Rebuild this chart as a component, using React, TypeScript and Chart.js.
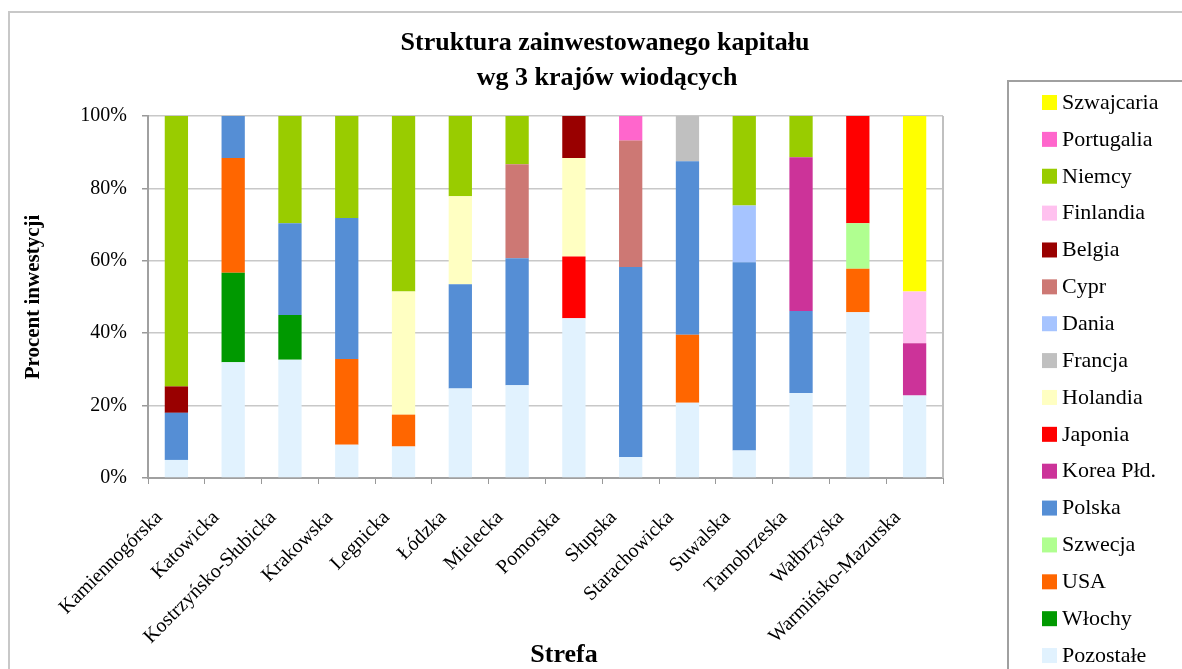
import React, { useEffect, useRef } from 'react';
import { Chart, registerables } from 'chart.js';

Chart.register(...registerables);

const categories = [
  'Kamiennogórska', 'Katowicka', 'Kostrzyńsko-Słubicka', 'Krakowska', 'Legnicka',
  'Łódzka', 'Mielecka', 'Pomorska', 'Słupska', 'Starachowicka',
  'Suwalska', 'Tarnobrzeska', 'Wałbrzyska', 'Warmińsko-Mazurska',
];

const titleLines = ['Struktura zainwestowanego kapitału', 'wg 3 krajów wiodących'];
const yTitle = 'Procent inwestycji';
const xTitle = 'Strefa';
const yTicks = [0, 20, 40, 60, 80, 100];

// values in % (bottom of the stack first)
const pozostale = [5, 32, 32.7, 9.2, 8.7, 24.7, 25.6, 44.1, 5.8, 20.8, 7.6, 23.5, 45.8, 22.8];
const wlochy = [0, 24.7, 12.3, 0, 0, 0, 0, 0, 0, 0, 0, 0, 0, 0];
const usa = [0, 31.7, 0, 23.7, 8.8, 0, 0, 0, 0, 18.8, 0, 0, 12, 0];
const szwecja = [0, 0, 0, 0, 0, 0, 0, 0, 0, 0, 0, 0, 12.6, 0];
const polska = [13, 11.6, 25.4, 38.9, 0, 28.8, 35.1, 0, 52.5, 47.9, 52, 22.6, 0, 0];
const korea = [0, 0, 0, 0, 0, 0, 0, 0, 0, 0, 0, 42.5, 0, 14.4];
const japonia = [0, 0, 0, 0, 0, 0, 0, 17.1, 0, 0, 0, 0, 29.6, 0];
const holandia = [0, 0, 0, 0, 34, 24.3, 0, 27.2, 0, 0, 0, 0, 0, 0];
const francja = [0, 0, 0, 0, 0, 0, 0, 0, 0, 12.5, 0, 0, 0, 0];
const dania = [0, 0, 0, 0, 0, 0, 0, 0, 0, 0, 15.7, 0, 0, 0];
const cypr = [0, 0, 0, 0, 0, 0, 26, 0, 34.9, 0, 0, 0, 0, 0];
const belgia = [7.3, 0, 0, 0, 0, 0, 0, 11.6, 0, 0, 0, 0, 0, 0];
const finlandia = [0, 0, 0, 0, 0, 0, 0, 0, 0, 0, 0, 0, 0, 14.3];
const niemcy = [74.7, 0, 29.6, 28.2, 48.5, 22.2, 13.3, 0, 0, 0, 24.7, 11.4, 0, 0];
const portugalia = [0, 0, 0, 0, 0, 0, 0, 0, 6.8, 0, 0, 0, 0, 0];
const szwajcaria = [0, 0, 0, 0, 0, 0, 0, 0, 0, 0, 0, 0, 0, 48.5];

const seriesNames = [
  'Pozostałe', 'Włochy', 'USA', 'Szwecja', 'Polska', 'Korea Płd.', 'Japonia', 'Holandia',
  'Francja', 'Dania', 'Cypr', 'Belgia', 'Finlandia', 'Niemcy', 'Portugalia', 'Szwajcaria',
];
const seriesValues = [
  pozostale, wlochy, usa, szwecja, polska, korea, japonia, holandia,
  francja, dania, cypr, belgia, finlandia, niemcy, portugalia, szwajcaria,
];
const seriesColors = [
  '#E1F2FE', '#009900', '#FF6600', '#B0FF90', '#558ED5', '#CC3399', '#FF0000', '#FFFFC2',
  '#C0C0C0', '#A6C4FF', '#CD7874', '#990000', '#FFC1EF', '#99CC00', '#FF66CC', '#FFFF00',
];

const SERIF = '"Liberation Serif", "Times New Roman", serif';

const decorPlugin = {
  id: 'decor',
  beforeDraw(chart: any) {
    const ctx = chart.ctx;
    ctx.save();
    ctx.fillStyle = '#ffffff';
    ctx.fillRect(0, 0, chart.width, chart.height);
    ctx.strokeStyle = '#c8c8c8';
    ctx.lineWidth = 2;
    ctx.strokeRect(9, 12, chart.width + 20, chart.height + 20);
    ctx.restore();
  },
  afterDraw(chart: any) {
    const ctx = chart.ctx;
    const ca = chart.chartArea;
    ctx.save();
    // plot border (right)
    ctx.strokeStyle = '#c0c0c0';
    ctx.lineWidth = 2;
    ctx.beginPath();
    ctx.moveTo(ca.right, ca.top);
    ctx.lineTo(ca.right, ca.bottom);
    ctx.stroke();

    // main title
    ctx.fillStyle = '#000';
    ctx.textAlign = 'center';
    ctx.textBaseline = 'middle';
    ctx.font = `bold 26px ${SERIF}`;
    ctx.fillText(titleLines[0], 605, 43);
    ctx.fillText(titleLines[1], 607, 78);

    // x title
    ctx.font = `bold 26px ${SERIF}`;
    ctx.fillText(xTitle, 564, 655);

    // legend
    const lx = 1008, ly = 81;
    ctx.strokeStyle = '#a0a0a0';
    ctx.lineWidth = 2;
    ctx.strokeRect(lx, ly, 400, 700);
    ctx.font = `22px ${SERIF}`;
    ctx.textAlign = 'left';
    const ds = chart.data.datasets;
    const n = ds.length;
    for (let i = 0; i < n; i++) {
      const d = ds[n - 1 - i];
      const cy = 102 + i * 36.87;
      ctx.fillStyle = d.backgroundColor;
      ctx.fillRect(1042, cy - 7, 15, 15);
      ctx.fillStyle = '#000';
      ctx.fillText(d.label, 1062, cy + 1);
    }
    ctx.restore();
  },
};

export default function App() {
  const ref = useRef<HTMLCanvasElement | null>(null);
  useEffect(() => {
    if (!ref.current) return;
    const chart = new Chart(ref.current, {
      type: 'bar',
      data: {
        labels: categories,
        datasets: seriesNames.map((name, i) => ({
          label: name,
          data: seriesValues[i],
          backgroundColor: seriesColors[i],
          borderWidth: 0,
          barPercentage: 0.41,
          categoryPercentage: 1,
        })),
      },
      options: {
        animation: false,
        responsive: false,
        devicePixelRatio: 1,
        layout: { padding: { top: 116, right: 239, left: 0, bottom: 0 } },
        plugins: {
          legend: { display: false },
          title: { display: false },
          tooltip: { enabled: false },
        },
        scales: {
          x: {
            stacked: true,
            grid: { drawOnChartArea: false, drawTicks: true, tickLength: 6, color: '#999999', offset: true },
            border: { color: '#a0a0a0', width: 2 },
            ticks: {
              font: { family: SERIF, size: 20 },
              color: '#000',
              minRotation: 45,
              maxRotation: 45,
              autoSkip: false,
              padding: 22,
              labelOffset: -17,
            },
            afterFit(scale: any) { scale.height = 669 - 478; },
          },
          y: {
            stacked: true,
            min: 0,
            max: 100,
            afterBuildTicks(scale: any) { scale.ticks = yTicks.map((v) => ({ value: v })); },
            grid: { color: '#c8c8c8', lineWidth: 1.5, tickLength: 6, tickColor: '#999999' },
            border: { color: '#a0a0a0', width: 2 },
            ticks: {
              font: { family: SERIF, size: 20 },
              color: '#000',
              padding: 15,
              callback: (v: any) => `${v}%`,
            },
            title: {
              display: true,
              text: yTitle,
              font: { family: SERIF, size: 21, weight: 'bold' },
              color: '#000',
              padding: { top: 21, bottom: 0 },
            },
            afterFit(scale: any) { scale.width = 148; },
          },
        },
      },
      plugins: [decorPlugin],
    });
    return () => chart.destroy();
  }, []);
  return (
    <div style={{ position: 'fixed', left: 0, top: 0, width: 1182, height: 669, background: '#fff' }}>
      <canvas ref={ref} width={1182} height={669} style={{ display: 'block' }} />
    </div>
  );
}
